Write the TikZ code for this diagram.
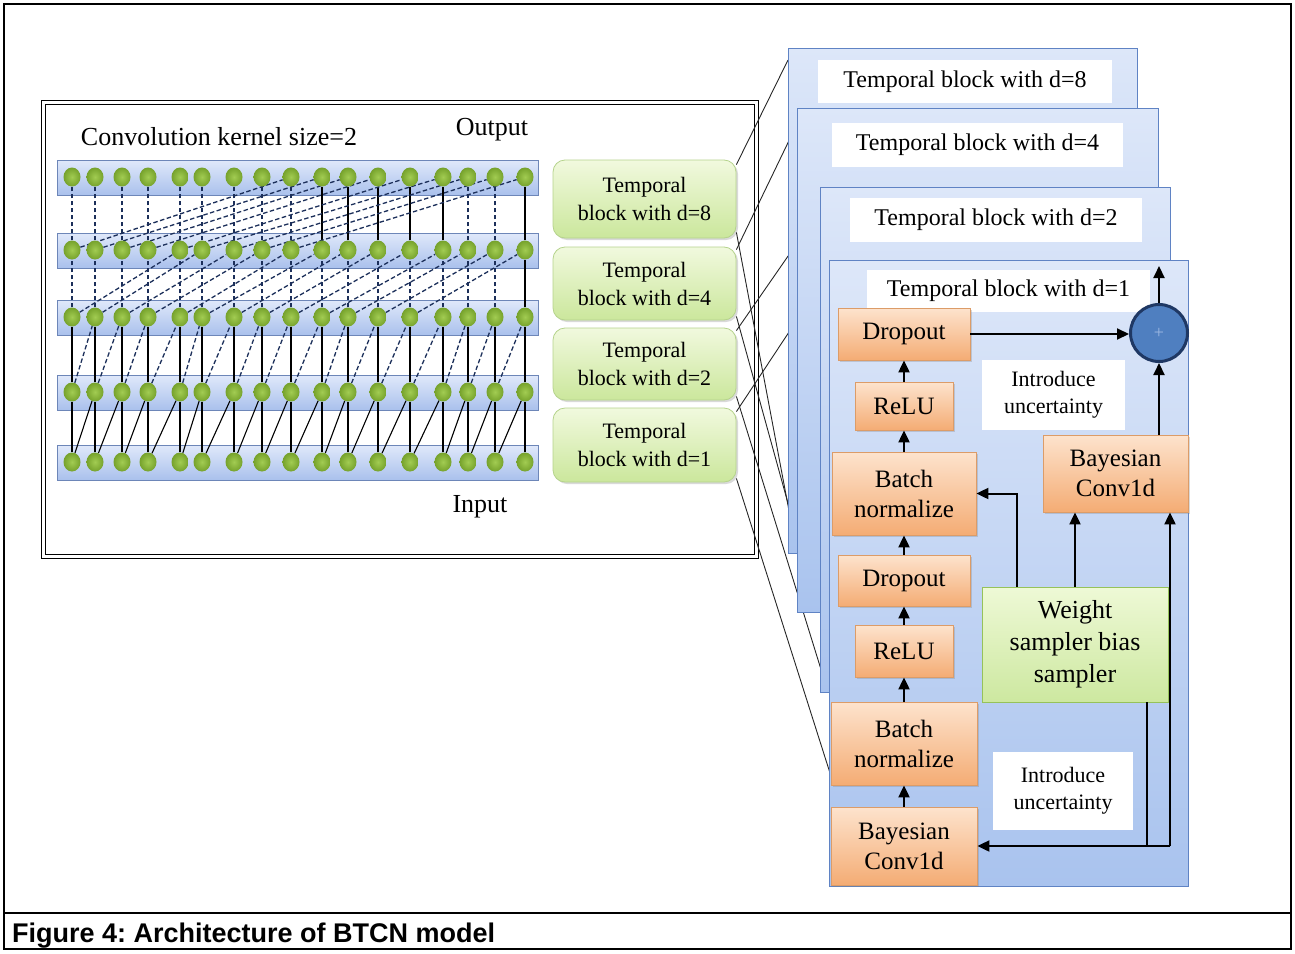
\documentclass[tikz,border=0pt]{standalone}
\usepackage{fontspec}
\setmainfont{Liberation Serif}
\newfontfamily\capfont{Liberation Sans}
\usetikzlibrary{arrows.meta,shadows,calc,shapes.geometric}

\definecolor{barTop}{HTML}{DFE8FA}
\definecolor{barBot}{HTML}{A9C0EC}
\definecolor{barLine}{HTML}{6D86B8}
\definecolor{ballIn}{HTML}{A2CC52}
\definecolor{ballOut}{HTML}{76A22C}
\definecolor{dashCol}{HTML}{1C2F5A}
\definecolor{gTop}{HTML}{F1F9DE}
\definecolor{gBot}{HTML}{CBE79C}
\definecolor{gLine}{HTML}{B5D38C}
\definecolor{pTop}{HTML}{DDE7F9}
\definecolor{pBot}{HTML}{A9C3EE}
\definecolor{pLine}{HTML}{5F83C4}
\definecolor{oTop}{HTML}{FDE3CD}
\definecolor{oBot}{HTML}{F4AC74}
\definecolor{oLine}{HTML}{DC9C68}
\definecolor{wTop}{HTML}{EEF9D6}
\definecolor{wBot}{HTML}{CDE8A0}
\definecolor{wLine}{HTML}{96C25A}
\definecolor{sumFill}{HTML}{4F7FC0}
\definecolor{sumLine}{HTML}{1F3864}
\definecolor{sumText}{HTML}{9DB8E2}

\pgfdeclarelayer{back}
\pgfdeclarelayer{mid}
\pgfsetlayers{back,mid,main}

\frenchspacing

% box node given by its corner coordinates: name, style, x1, y1, x2, y2, text
\newcommand\mkbox[7]{%
  \pgfmathsetmacro\bcx{(#3+#5)/2}%
  \pgfmathsetmacro\bcy{(#4+#6)/2}%
  \pgfmathsetmacro\bw{#5-#3}%
  \pgfmathsetmacro\bh{#6-#4}%
  \node[#2, minimum width=\bw pt, minimum height=\bh pt] (#1) at (\bcx,\bcy) {#7};}

\begin{document}
\begin{tikzpicture}[x=1pt,y=-1pt,
  bar/.style={draw=barLine, line width=0.8pt, top color=barTop, bottom color=barBot, inner sep=0},
  ball/.style={ellipse, minimum width=17pt, minimum height=19pt, inner sep=0,
               shading=radial, inner color=ballIn, outer color=ballOut},
  sol/.style={line width=1.1pt, black},
  dsh/.style={line width=1.3pt, dashCol, dash pattern=on 4.5pt off 2.5pt},
  shade/.style={drop shadow={shadow xshift=2pt, shadow yshift=-2pt, opacity=0.3}},
  tblock/.style={draw=gLine, line width=0.8pt, rounded corners=12pt, top color=gTop, bottom color=gBot,
                 align=center, inner sep=2pt, font=\fontsize{22}{28}\selectfont, shade},
  panel/.style={draw=pLine, line width=1pt, top color=pTop, bottom color=pBot, inner sep=0},
  ptitle/.style={fill=white, inner sep=2pt, font=\fontsize{24}{28}\selectfont},
  obox/.style={draw=oLine, line width=0.8pt, top color=oTop, bottom color=oBot, align=center,
               inner sep=2pt, font=\fontsize{25}{30}\selectfont, shade},
  wbox/.style={draw=wLine, line width=0.8pt, top color=wTop, bottom color=wBot, align=center,
               inner sep=2pt, font=\fontsize{26}{32}\selectfont},
  note/.style={fill=white, align=center, inner sep=2pt, font=\fontsize{22}{27}\selectfont},
  lbl/.style={font=\fontsize{26}{30}\selectfont, inner sep=0},
  arr/.style={line width=2pt, -{Triangle[length=12pt,width=11pt]}},
  fan/.style={line width=0.9pt, black!85}]

\useasboundingbox (0,0) rectangle (1295,953);

% outer frame and caption
\draw[line width=1.5pt] (4,4) rectangle (1291,949);
\draw[line width=1.5pt] (4,913) -- (1291,913);
\node[anchor=base west, inner sep=0, font=\capfont\bfseries\fontsize{27}{30}\selectfont] (cap) at (12,942)
  {Figure 4: Architecture of BTCN model};

% double frame around the dilated convolution network
\node[draw, double, double distance=3pt, line width=1pt, minimum width=713pt, minimum height=454pt, inner sep=0]
  (frame) at (400,329.5) {};

\node[lbl] (ksize) at (219,137) {Convolution kernel size=2};
\node[lbl] (outlbl) at (492,130) {Output};
\node[lbl] (inlbl) at (480,507) {Input};

% layers of neurons
\foreach \y [count=\r] in {177,250,317,392,462} {
  \begin{pgfonlayer}{back}
    \node[bar, minimum width=481pt, minimum height=35pt] (bar\r) at (297.5,\y+1) {};
  \end{pgfonlayer}
  \foreach \x [count=\i] in {72,95,122,148,180,202,234,262,291,322,348,378,410,443,468,495,525} {
    \node[ball] (n\r-\i) at (\x,\y) {};
  }
}

% connections between layers
\begin{pgfonlayer}{mid}
  \foreach \i in {1,...,17} {
    \draw[sol] (n5-\i) -- (n4-\i);
    \draw[sol] (n4-\i) -- (n3-\i);
  }
  \foreach \i [evaluate=\i as \j using int(\i-1)] in {2,...,17} {
    \draw[sol] (n5-\j) -- (n4-\i);
    \draw[dsh] (n4-\j) -- (n3-\i);
  }
  \foreach \i in {1,...,16} \draw[dsh] (n3-\i) -- (n2-\i);
  \draw[sol] (n3-17) -- (n2-17);
  \foreach \i [evaluate=\i as \j using int(\i-4)] in {5,...,17} \draw[dsh] (n3-\j) -- (n2-\i);
  \foreach \i in {1,...,9,15,16} \draw[dsh] (n2-\i) -- (n1-\i);
  \foreach \i in {10,...,14,17} \draw[sol] (n2-\i) -- (n1-\i);
  \foreach \i [evaluate=\i as \j using int(\i-8)] in {9,...,17} \draw[dsh] (n2-\j) -- (n1-\i);
\end{pgfonlayer}

% temporal blocks
\mkbox{g8}{tblock}{553}{160}{736}{238}{Temporal\\block with d=8}
\mkbox{g4}{tblock}{553}{247}{736}{320}{Temporal\\block with d=4}
\mkbox{g2}{tblock}{553}{328}{736}{400}{Temporal\\block with d=2}
\mkbox{g1}{tblock}{553}{408}{736}{482}{Temporal\\block with d=1}

% ends of the zoom lines on the stacked panels
\coordinate (e8t) at (788,60);
\coordinate (e4t) at (797,124);
\coordinate (e2t) at (820,210);
\coordinate (e1t) at (830,270);
\coordinate (e8b) at (797,553);
\coordinate (e4b) at (818,612);
\coordinate (e2b) at (828,692);
\coordinate (e1b) at (830,773);

\draw[fan] ([yshift=-5pt]g8.north east) -- (e8t);
\draw[fan] ([yshift=-3pt]g4.north east) -- (e4t);
\draw[fan] ([yshift=-3pt]g2.north east) -- (e2t);
\draw[fan] ([yshift=-4pt]g1.north east) -- (e1t);
\draw[fan] ([yshift=6pt]g8.south east) -- (e8b);
\draw[fan] ([yshift=4pt]g4.south east) -- (e4b);
\draw[fan] ([yshift=4pt]g2.south east) -- (e2b);
\draw[fan] ([yshift=4pt]g1.south east) -- (e1b);

% stacked panels
\mkbox{p8}{panel}{788}{48}{1137}{553}{}
\mkbox{t8}{ptitle}{818}{60}{1112}{103}{Temporal block with d=8}
\mkbox{p4}{panel}{797}{108}{1158}{612}{}
\mkbox{t4}{ptitle}{832}{123}{1123}{167}{Temporal block with d=4}
\mkbox{p2}{panel}{820}{187}{1170}{692}{}
\mkbox{t2}{ptitle}{850}{198}{1142}{242}{Temporal block with d=2}
\mkbox{p1}{panel}{829}{260}{1188}{886}{}
\mkbox{t1}{ptitle}{867}{270}{1150}{312}{Temporal block with d=1}

% inside the temporal block with d=1
\mkbox{do1}{obox}{838}{308}{970}{360}{Dropout}
\mkbox{re1}{obox}{855}{382}{953}{430}{ReLU}
\mkbox{bn1}{obox}{832}{452}{976}{535}{Batch\\normalize}
\mkbox{do2}{obox}{838}{555}{970}{606}{Dropout}
\mkbox{re2}{obox}{855}{625}{953}{677}{ReLU}
\mkbox{bn2}{obox}{831}{702}{977}{785}{Batch\\normalize}
\mkbox{bc2}{obox}{831}{807}{977}{885}{Bayesian\\Conv1d}
\mkbox{bc1}{obox}{1043}{435}{1188}{512}{Bayesian\\Conv1d}
\mkbox{ws}{wbox}{982}{587}{1168}{702}{Weight\\sampler bias\\sampler}
\mkbox{iu1}{note}{982}{360}{1125}{430}{Introduce\\uncertainty}
\mkbox{iu2}{note}{993}{752}{1133}{830}{Introduce\\uncertainty}
\node[circle, draw=sumLine, line width=3pt, fill=sumFill, minimum size=57pt, inner sep=0,
      font=\fontsize{18}{18}\selectfont, text=sumText] (sum) at (1159,333) {+};

\coordinate (sumout) at (1159,266);
\coordinate (rt) at (1170,846);

\draw[arr] (bc2.north) -- (bn2.south);
\draw[arr] (bn2.north) -- (re2.south);
\draw[arr] (re2.north) -- (do2.south);
\draw[arr] (do2.north) -- (bn1.south);
\draw[arr] (bn1.north) -- (re1.south);
\draw[arr] (re1.north) -- (do1.south);
\draw[arr] (do1.east) -- (do1.east -| sum.west);
\draw[arr] (sum.south |- bc1.north) -- (sum.south);
\draw[arr] (sum.north) -- (sumout);
\draw[arr] ([xshift=-58pt]ws.north) |- (bn1.east);
\draw[arr] (ws.north) -- (ws.north |- bc1.south);
\draw[line width=2pt] ([xshift=72pt]ws.south) -- ([xshift=72pt]ws.south |- rt);
\draw[arr] (rt) -- (bc2.east);
\draw[arr] (rt) -- (rt |- bc1.south);

\end{tikzpicture}
\end{document}
